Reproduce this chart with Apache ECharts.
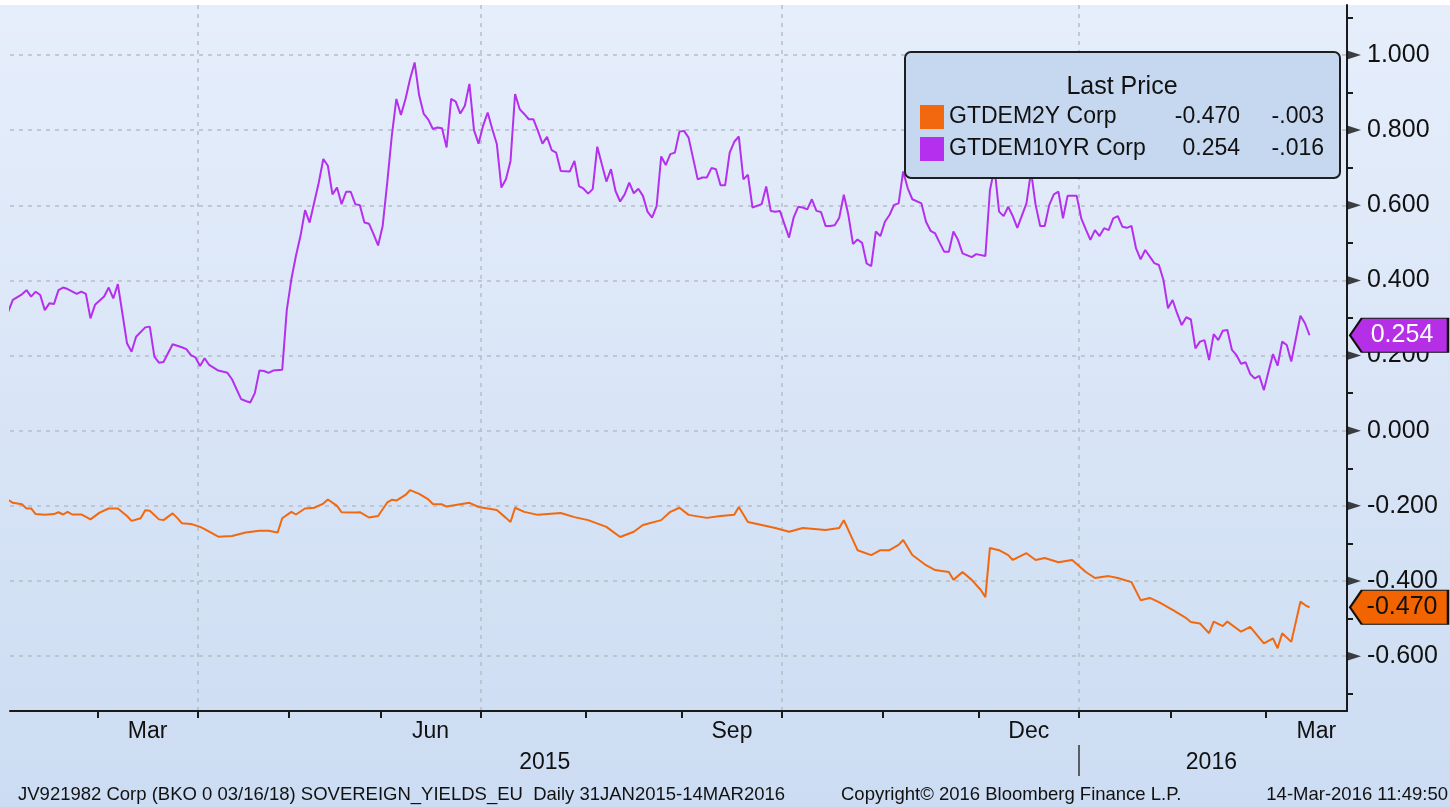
<!DOCTYPE html>
<html>
<head>
<meta charset="utf-8">
<title>GTDEM2Y / GTDEM10YR</title>
<script src="https://cdn.jsdelivr.net/npm/echarts@6.0.0/dist/echarts.min.js"></script>
<style>
  html, body { margin: 0; padding: 0; background: #fff; }
  #chart { width: 1450px; height: 807px; }
</style>
</head>
<body>
<div id="chart"></div>
<script>
// trading day index (0 = 02 Feb 2015), yield
var tenYearPts = [[0,0.317],[1,0.348],[3,0.363],[4,0.374],[5,0.357],[6,0.370],[7,0.361],[8,0.321],[9,0.339],[10,0.337],[11,0.374],[12,0.381],[13,0.377],[15,0.364],[16,0.370],[17,0.364],[18,0.299],[19,0.335],[21,0.357],[22,0.381],[23,0.352],[24,0.390],[25,0.312],[26,0.233],[27,0.210],[28,0.250],[30,0.275],[31,0.277],[32,0.197],[33,0.181],[34,0.183],[36,0.230],[38,0.222],[39,0.217],[40,0.201],[41,0.195],[42,0.172],[43,0.193],[44,0.175],[46,0.160],[48,0.154],[49,0.137],[51,0.084],[52,0.079],[53,0.075],[54,0.100],[55,0.160],[56,0.159],[57,0.154],[58,0.160],[60,0.162],[61,0.321],[62,0.403],[63,0.465],[64,0.518],[65,0.587],[66,0.554],[68,0.660],[69,0.723],[70,0.705],[71,0.629],[72,0.647],[73,0.603],[74,0.636],[75,0.636],[76,0.603],[77,0.600],[78,0.554],[79,0.551],[80,0.523],[81,0.493],[82,0.545],[83,0.660],[84,0.785],[85,0.883],[86,0.840],[87,0.883],[88,0.936],[89,0.980],[90,0.892],[91,0.843],[92,0.828],[93,0.803],[94,0.807],[95,0.805],[96,0.754],[97,0.883],[98,0.876],[99,0.844],[100,0.865],[101,0.923],[102,0.800],[103,0.764],[104,0.812],[105,0.847],[106,0.803],[107,0.763],[108,0.647],[109,0.669],[110,0.718],[111,0.896],[112,0.856],[113,0.843],[114,0.829],[115,0.829],[116,0.798],[117,0.764],[118,0.782],[119,0.747],[120,0.740],[121,0.691],[123,0.690],[124,0.718],[125,0.651],[126,0.644],[127,0.631],[128,0.643],[129,0.756],[130,0.709],[131,0.663],[132,0.696],[133,0.638],[134,0.610],[135,0.629],[136,0.660],[137,0.632],[138,0.644],[139,0.625],[140,0.583],[141,0.567],[142,0.598],[143,0.730],[144,0.707],[145,0.736],[146,0.740],[147,0.796],[148,0.798],[149,0.780],[151,0.669],[152,0.674],[153,0.674],[154,0.699],[155,0.696],[156,0.653],[157,0.653],[158,0.740],[159,0.769],[160,0.783],[161,0.669],[162,0.681],[163,0.594],[165,0.603],[166,0.650],[167,0.585],[168,0.583],[169,0.585],[171,0.514],[172,0.567],[173,0.596],[174,0.594],[175,0.589],[176,0.616],[177,0.585],[178,0.582],[179,0.545],[180,0.545],[181,0.547],[182,0.567],[183,0.628],[184,0.574],[185,0.497],[186,0.509],[187,0.500],[188,0.445],[189,0.438],[190,0.530],[191,0.518],[192,0.556],[193,0.574],[194,0.601],[195,0.605],[196,0.690],[197,0.645],[198,0.616],[200,0.605],[201,0.556],[202,0.532],[203,0.525],[204,0.500],[205,0.476],[206,0.476],[207,0.530],[208,0.508],[209,0.472],[211,0.462],[212,0.470],[214,0.465],[215,0.640],[216,0.700],[217,0.583],[218,0.571],[219,0.596],[220,0.571],[221,0.540],[223,0.605],[224,0.690],[225,0.601],[226,0.545],[227,0.545],[228,0.601],[229,0.629],[230,0.636],[231,0.565],[232,0.625],[233,0.625],[234,0.625],[235,0.565],[236,0.536],[237,0.508],[238,0.534],[239,0.518],[240,0.539],[241,0.534],[242,0.565],[243,0.571],[244,0.543],[245,0.540],[246,0.545],[247,0.485],[248,0.456],[249,0.481],[251,0.446],[252,0.441],[253,0.401],[254,0.326],[255,0.348],[256,0.312],[257,0.281],[258,0.302],[259,0.296],[260,0.219],[261,0.237],[262,0.241],[263,0.188],[264,0.257],[265,0.241],[266,0.266],[267,0.268],[268,0.215],[269,0.201],[270,0.178],[271,0.182],[272,0.151],[273,0.139],[274,0.146],[275,0.108],[276,0.157],[277,0.204],[278,0.173],[279,0.237],[280,0.228],[281,0.184],[283,0.306],[284,0.286],[285,0.254]];

var twoYearPts = [[0,-0.184],[1,-0.192],[3,-0.196],[4,-0.207],[5,-0.207],[6,-0.222],[8,-0.224],[10,-0.222],[11,-0.217],[12,-0.223],[13,-0.216],[14,-0.223],[16,-0.223],[18,-0.236],[20,-0.218],[22,-0.207],[24,-0.207],[26,-0.227],[27,-0.240],[29,-0.233],[30,-0.212],[31,-0.213],[33,-0.236],[34,-0.238],[36,-0.220],[37,-0.232],[38,-0.246],[40,-0.248],[42,-0.256],[43,-0.262],[46,-0.282],[49,-0.280],[52,-0.271],[55,-0.266],[57,-0.266],[59,-0.271],[60,-0.233],[62,-0.216],[63,-0.223],[65,-0.207],[67,-0.205],[69,-0.194],[70,-0.183],[72,-0.200],[73,-0.217],[76,-0.218],[77,-0.217],[79,-0.231],[81,-0.227],[83,-0.191],[84,-0.184],[85,-0.186],[87,-0.171],[88,-0.158],[90,-0.168],[92,-0.183],[93,-0.195],[95,-0.196],[96,-0.202],[98,-0.198],[101,-0.192],[103,-0.203],[107,-0.211],[109,-0.232],[110,-0.243],[111,-0.205],[113,-0.216],[116,-0.224],[121,-0.219],[124,-0.230],[127,-0.238],[131,-0.256],[134,-0.283],[137,-0.269],[139,-0.251],[143,-0.238],[145,-0.216],[147,-0.205],[149,-0.224],[153,-0.232],[156,-0.227],[159,-0.224],[160,-0.203],[162,-0.243],[165,-0.251],[168,-0.259],[171,-0.269],[174,-0.259],[179,-0.264],[182,-0.259],[183,-0.238],[185,-0.291],[186,-0.318],[189,-0.331],[191,-0.318],[193,-0.318],[195,-0.304],[196,-0.291],[198,-0.331],[201,-0.358],[203,-0.371],[206,-0.376],[207,-0.397],[209,-0.376],[211,-0.397],[213,-0.424],[214,-0.443],[215,-0.312],[217,-0.318],[219,-0.331],[220,-0.344],[223,-0.326],[225,-0.344],[227,-0.339],[230,-0.350],[233,-0.344],[236,-0.376],[238,-0.392],[241,-0.387],[243,-0.392],[246,-0.403],[248,-0.451],[250,-0.445],[252,-0.456],[255,-0.477],[258,-0.499],[259,-0.509],[261,-0.513],[263,-0.539],[264,-0.508],[266,-0.520],[267,-0.508],[270,-0.535],[272,-0.522],[275,-0.566],[277,-0.553],[278,-0.579],[279,-0.539],[281,-0.562],[283,-0.455],[284,-0.464],[285,-0.470]];

var seriesNames = ['GTDEM2Y Corp', 'GTDEM10YR Corp'];
var lastPrice = [-0.470, 0.254];
var lastChange = ['-.003', '-.016'];

// month boundaries in trading days (Mar 2015 .. Mar 2016)
var monthTicks = [20, 42, 62, 82, 104, 127, 148, 170, 192, 213, 235, 255, 276];
var quarterLines = [42, 104, 170, 235];
var monthLabelPos = [31, 93, 159, 224, 287];
var monthLabels = ['Mar', 'Jun', 'Sep', 'Dec', 'Mar'];
var yearLabelPos = [118, 264];
var yearLabels = ['2015', '2016'];
var yearBreak = [235];

var yTicks = [-0.6, -0.4, -0.2, 0, 0.2, 0.4, 0.6, 0.8, 1.0];
var yMinor = [-0.7, -0.5, -0.3, -0.1, 0.1, 0.3, 0.5, 0.7, 0.9, 1.1];

var xMin = 0.88, xMax = 293.7;
var yMin = -0.746, yMax = 1.133;

var FONT = "'Liberation Sans', Arial, sans-serif";
var ORANGE = '#f2680e';
var PURPLE = '#b430ee';
var tagPath = 'path://M0,10 L12,0 L100,0 L100,20 L12,20 Z';

function toXY(pts){
	var out = [];
	for(var i = 0; i < pts.length; i++){
		out.push([pts[i][0] + 0.5, pts[i][1]]);
	}
	return out;
}

function priceTag(value, fill, textColor){
	return {
		silent: true,
		symbol: tagPath,
		symbolSize: [98, 34],
		symbolOffset: [52, 0],
		itemStyle: { color: fill, borderColor: '#111', borderWidth: 1.5 },
		label: {
			show: true, position: 'inside', offset: [3, 0],
			color: textColor, fontSize: 25, fontFamily: FONT,
			formatter: function(){ return value.toFixed(3); }
		},
		data: [{ coord: [xMax, value] }]
	};
}

var chart = echarts.init(document.getElementById('chart'));

var footStyle = { fontSize: 18.5, fontWeight: 'normal', color: '#111', fontFamily: FONT };

var option = {
	animation: false,
	backgroundColor: {
		type: 'linear', x: 0, y: 0, x2: 0, y2: 1,
		colorStops: [
			{ offset: 0, color: '#ffffff' },
			{ offset: 0.006, color: '#ffffff' },
			{ offset: 0.0065, color: '#e6eefb' },
			{ offset: 1, color: '#ccdcf2' }
		]
	},
	textStyle: { fontFamily: FONT },
	title: [
		{ text: 'Last Price', left: 1122, top: 75, textAlign: 'center', padding: 0,
		  textStyle: { fontSize: 25, fontWeight: 'normal', color: '#111', fontFamily: FONT } },
		{ text: 'JV921982 Corp (BKO 0 03/16/18) SOVEREIGN_YIELDS_EU  Daily 31JAN2015-14MAR2016', left: 18, top: 785, padding: 0,
		  textStyle: footStyle },
		{ text: 'Copyright\u00a9 2016 Bloomberg Finance L.P.', left: 841, top: 785, padding: 0,
		  textStyle: footStyle },
		{ text: '14-Mar-2016 11:49:50', right: 2, top: 785, padding: 0,
		  textStyle: footStyle }
	],
	legend: {
		left: 905, top: 52,
		orient: 'vertical',
		selectedMode: false,
		icon: 'rect',
		itemWidth: 24, itemHeight: 24, itemGap: 8,
		padding: [53, 16, 17, 15],
		backgroundColor: '#c6d7f0',
		borderColor: '#1e1e1e', borderWidth: 2, borderRadius: 6,
		data: seriesNames,
		formatter: function(name){
			var i = seriesNames.indexOf(name);
			return '{n|' + name + '}{a|' + lastPrice[i].toFixed(3) + '}{b|' + lastChange[i] + '}';
		},
		textStyle: {
			color: '#111', fontFamily: FONT, fontSize: 23,
			rich: {
				n: { width: 205, fontSize: 23, lineHeight: 24, fontFamily: FONT, color: '#111' },
				a: { width: 86, align: 'right', fontSize: 23, lineHeight: 24, fontFamily: FONT, color: '#111' },
				b: { width: 84, align: 'right', fontSize: 23, lineHeight: 24, fontFamily: FONT, color: '#111' }
			}
		}
	},
	grid: { left: 10, right: 103, top: 5, bottom: 96, containLabel: false },
	xAxis: [
		{
			type: 'value', min: xMin, max: xMax, position: 'bottom',
			axisLine: { show: true, onZero: false, lineStyle: { color: '#1a1a1a', width: 2 } },
			axisTick: { show: true, customValues: monthTicks, length: 7, lineStyle: { color: '#1a1a1a', width: 2 } },
			axisLabel: {
				customValues: monthLabelPos, margin: 9, fontSize: 23, color: '#111', fontFamily: FONT,
				formatter: function(v){ var i = monthLabelPos.indexOf(v); return i >= 0 ? monthLabels[i] : ''; }
			},
			splitLine: { show: false }
		},
		{
			type: 'value', min: xMin, max: xMax, position: 'bottom',
			axisLine: { show: false, onZero: false },
			axisTick: { show: false, customValues: quarterLines },
			axisLabel: { show: false },
			splitLine: { show: true, lineStyle: { color: '#b5bdc8', width: 1.5, type: [4, 5] } }
		},
		{
			type: 'value', min: xMin, max: xMax, position: 'bottom', offset: 34,
			axisLine: { show: false, onZero: false },
			axisTick: { show: true, customValues: yearBreak, length: 31, lineStyle: { color: '#333', width: 1.5 } },
			axisLabel: {
				customValues: yearLabelPos, margin: 6, fontSize: 23, color: '#111', fontFamily: FONT,
				formatter: function(v){ var i = yearLabelPos.indexOf(v); return i >= 0 ? yearLabels[i] : ''; }
			},
			splitLine: { show: false }
		}
	],
	yAxis: [
		{
			type: 'value', min: yMin, max: yMax, position: 'right',
			axisLine: { show: true, onZero: false, lineStyle: { color: '#1a1a1a', width: 2 } },
			axisTick: { show: false, customValues: yTicks },
			axisLabel: {
				customValues: yTicks, margin: 20, fontSize: 25, color: '#111', fontFamily: FONT,
				formatter: function(v){ return v.toFixed(3); }
			},
			splitLine: { show: true, lineStyle: { color: '#b5bdc8', width: 1.5, type: [4, 5] } }
		},
		{
			type: 'value', min: yMin, max: yMax, position: 'right',
			axisLine: { show: false, onZero: false },
			axisTick: { show: true, customValues: yMinor, length: 6, lineStyle: { color: '#1a1a1a', width: 2 } },
			axisLabel: { show: false },
			splitLine: { show: false }
		}
	],
	series: [
		{
			name: seriesNames[0], type: 'line', xAxisIndex: 0, yAxisIndex: 0,
			showSymbol: false, silent: true,
			color: ORANGE,
			lineStyle: { color: ORANGE, width: 2 },
			data: toXY(twoYearPts),
			markPoint: priceTag(lastPrice[0], '#f26400', '#111')
		},
		{
			name: seriesNames[1], type: 'line', xAxisIndex: 0, yAxisIndex: 0,
			showSymbol: false, silent: true,
			color: PURPLE,
			lineStyle: { color: PURPLE, width: 2 },
			data: toXY(tenYearPts),
			markPoint: priceTag(lastPrice[1], '#b42fe6', '#ffffff')
		},
		{
			// tick arrows on the price axis
			name: 'ticks', type: 'scatter', xAxisIndex: 0, yAxisIndex: 0,
			silent: true, clip: false, z: 4,
			symbol: 'triangle', symbolSize: [9, 14], symbolRotate: -90, symbolOffset: [7, 0],
			itemStyle: { color: '#111' },
			data: yTicks.map(function(v){ return [xMax, v]; })
		}
	]
};

chart.setOption(option);
</script>
</body>
</html>
